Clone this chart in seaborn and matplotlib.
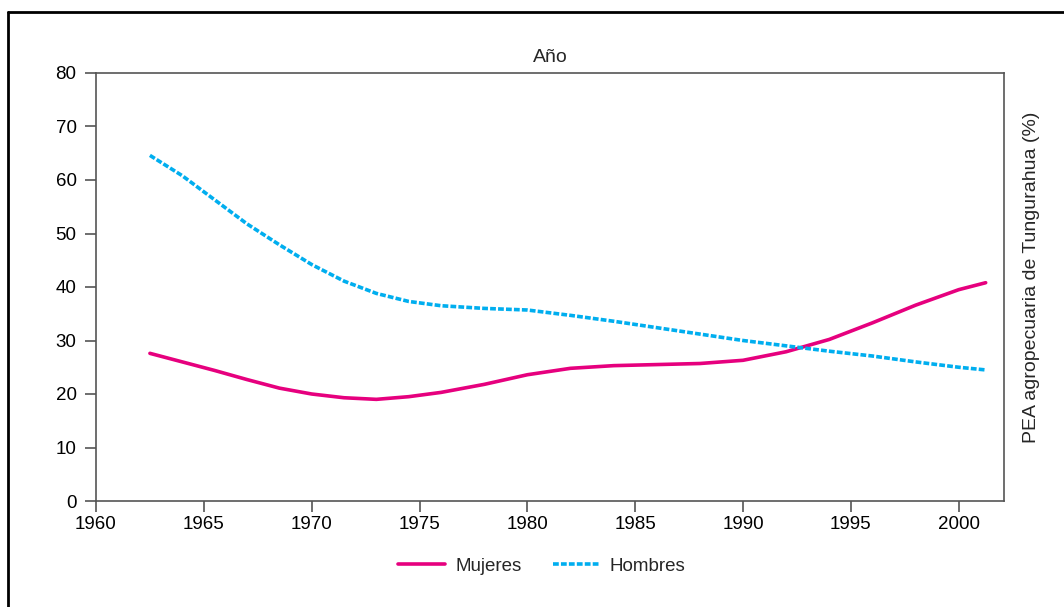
import pandas as pd
import seaborn as sns
import matplotlib.pyplot as plt
from matplotlib.lines import Line2D

# Valores (PEA agropecuaria de Tungurahua, %)
years = [1962.5, 1964, 1965.5, 1967, 1968.5, 1970, 1971.5, 1973, 1974.5, 1976,
         1978, 1980, 1982, 1984, 1986, 1988, 1990, 1992, 1994, 1996, 1998,
         2000, 2001.25]
mujeres = [27.6, 26.0, 24.4, 22.7, 21.1, 20.0, 19.3, 19.0, 19.5, 20.3,
           21.8, 23.6, 24.8, 25.3, 25.5, 25.7, 26.3, 27.9, 30.2, 33.3, 36.6,
           39.5, 40.8]
hombres = [64.6, 60.8, 56.3, 51.8, 47.9, 44.2, 41.1, 38.8, 37.3, 36.5,
           36.0, 35.7, 34.7, 33.6, 32.4, 31.2, 30.0, 29.0, 28.0, 27.1, 26.0,
           25.0, 24.5]
x_ticks = [1960, 1965, 1970, 1975, 1980, 1985, 1990, 1995, 2000]
y_ticks = [0, 10, 20, 30, 40, 50, 60, 70, 80]

df = pd.DataFrame({"Año": years, "Mujeres": mujeres, "Hombres": hombres})

sns.set_style("white")
plt.rcParams['font.family'] = ['Liberation Sans', 'DejaVu Sans']

fig = plt.figure(figsize=(10.64, 6.07), dpi=100)
ax = fig.add_axes([96 / 1064, 1 - 501 / 607, (1004 - 96) / 1064, (501 - 73) / 607])

col_m = "#E6007E"
col_h = "#00AEEF"
sns.lineplot(data=df, x="Año", y="Mujeres", ax=ax, color=col_m, linewidth=2.6)
sns.lineplot(data=df, x="Año", y="Hombres", ax=ax, color=col_h, linewidth=2.6)
ax.lines[1].set_dashes([1.6, 0.6])

ax.set_xlim(1960, 2002.1)
ax.set_ylim(0, 80)
ax.set_xticks(x_ticks)
ax.set_yticks(y_ticks)
ax.tick_params(axis="both", labelsize=13.5, colors="#555555", labelcolor="black",
               length=8, width=1.2, direction="out")
ax.tick_params(axis="x", bottom=True, pad=3)
ax.tick_params(axis="y", left=True, pad=6)
for s in ax.spines.values():
    s.set_color("#555555")
    s.set_linewidth(1.2)

ax.set_title("Año", fontsize=14, pad=8)
ax.set_xlabel("")
ax.yaxis.set_label_position("right")
ax.set_ylabel("PEA agropecuaria de Tungurahua (%)", fontsize=14)
ax.yaxis.set_label_coords(1.021, 0.522)

handles = [Line2D([], [], color=col_m, linewidth=2.6),
           Line2D([], [], color=col_h, linewidth=2.6, dashes=[1.6, 0.6])]
fig.legend(handles, ["Mujeres", "Hombres"], loc="center", bbox_to_anchor=(542 / 1064, 1 - 566 / 607),
           ncol=2, frameon=False, fontsize=13.5, handlelength=2.5, columnspacing=1.65,
           handletextpad=0.55)

# marco exterior (arriba e izquierda)
fig.add_artist(Line2D([8 / 1064, 8 / 1064], [0, 1 - 12 / 607], color="black", linewidth=2,
                      transform=fig.transFigure))
fig.add_artist(Line2D([8 / 1064, 1], [1 - 12 / 607, 1 - 12 / 607], color="black", linewidth=2,
                      transform=fig.transFigure))

fig.savefig("out.png", dpi=100)
